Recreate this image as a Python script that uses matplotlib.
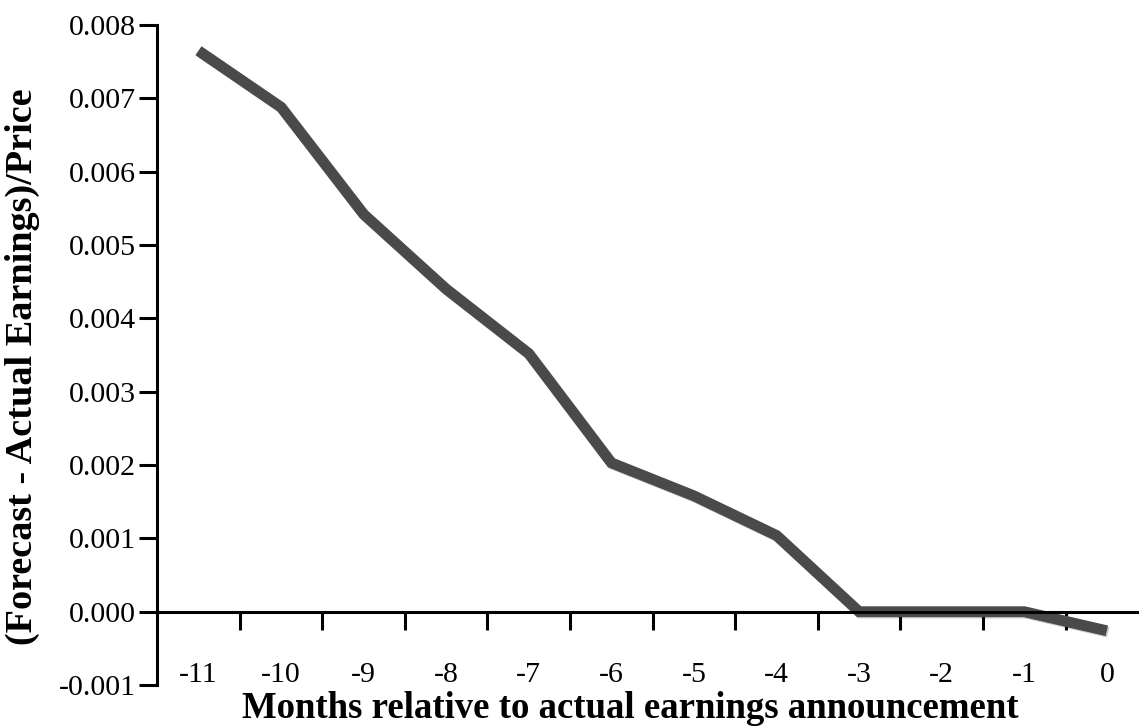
import numpy as np
import matplotlib
matplotlib.use("Agg")
import matplotlib.pyplot as plt
import matplotlib.patheffects as pe

# months relative to announcement and mean forecast error scaled by price
months = [-11, -10, -9, -8, -7, -6, -5, -4, -3, -2, -1, 0]
errors = [0.00765, 0.00688, 0.00542, 0.00440, 0.00352, 0.00203,
          0.00158, 0.00104, 0.00000, 0.00000, 0.00000, -0.00026]
yticks = [-0.001, 0.000, 0.001, 0.002, 0.003, 0.004, 0.005, 0.006, 0.007, 0.008]

plt.rcParams['font.family'] = ['Liberation Serif', 'DejaVu Serif']

fig = plt.figure(figsize=(11.39, 7.28), dpi=100)
ax = fig.add_axes([0.138, 0.059, 0.870, 0.9066])

x = np.arange(len(months))
ax.plot(x, errors, color='#4a4a4a', lw=7.8, solid_capstyle='butt',
        solid_joinstyle='miter',
        path_effects=[pe.SimpleLineShadow(offset=(1, -1), alpha=0.2),
                      pe.Normal()])

ax.set_xlim(-0.5, 11.5)
ax.set_ylim(-0.001, 0.008)

# spines
for s in ['top', 'right']:
    ax.spines[s].set_visible(False)
ax.spines['left'].set_linewidth(2.2)
ax.spines['bottom'].set_linewidth(2.2)
ax.spines['bottom'].set_position(('data', 0))

ax.set_yticks(yticks)
ax.set_yticklabels(['%.3f' % v for v in yticks])
ax.tick_params(axis='y', direction='out', length=13, width=2.2, labelsize=21.5, pad=2)

# category labels in the middle, tick marks on the boundaries
ax.set_xticks(x)
ax.set_xticklabels([str(m) for m in months])
ax.set_xticks(np.arange(0.5, 11.5, 1), minor=True)
ax.tick_params(axis='x', which='major', length=0, labelsize=21.5, pad=36)
ax.tick_params(axis='x', which='minor', direction='out', length=13, width=2.2)

ax.set_ylabel('(Forecast - Actual Earnings)/Price', fontsize=27.5,
              fontweight='bold')
ax.yaxis.set_label_coords(-0.118, 0.483)
fig.text(0.553, 0.003, 'Months relative to actual earnings announcement',
         fontsize=26.5, fontweight='bold', ha='center', va='bottom')

fig.savefig('out.png', dpi=100)
